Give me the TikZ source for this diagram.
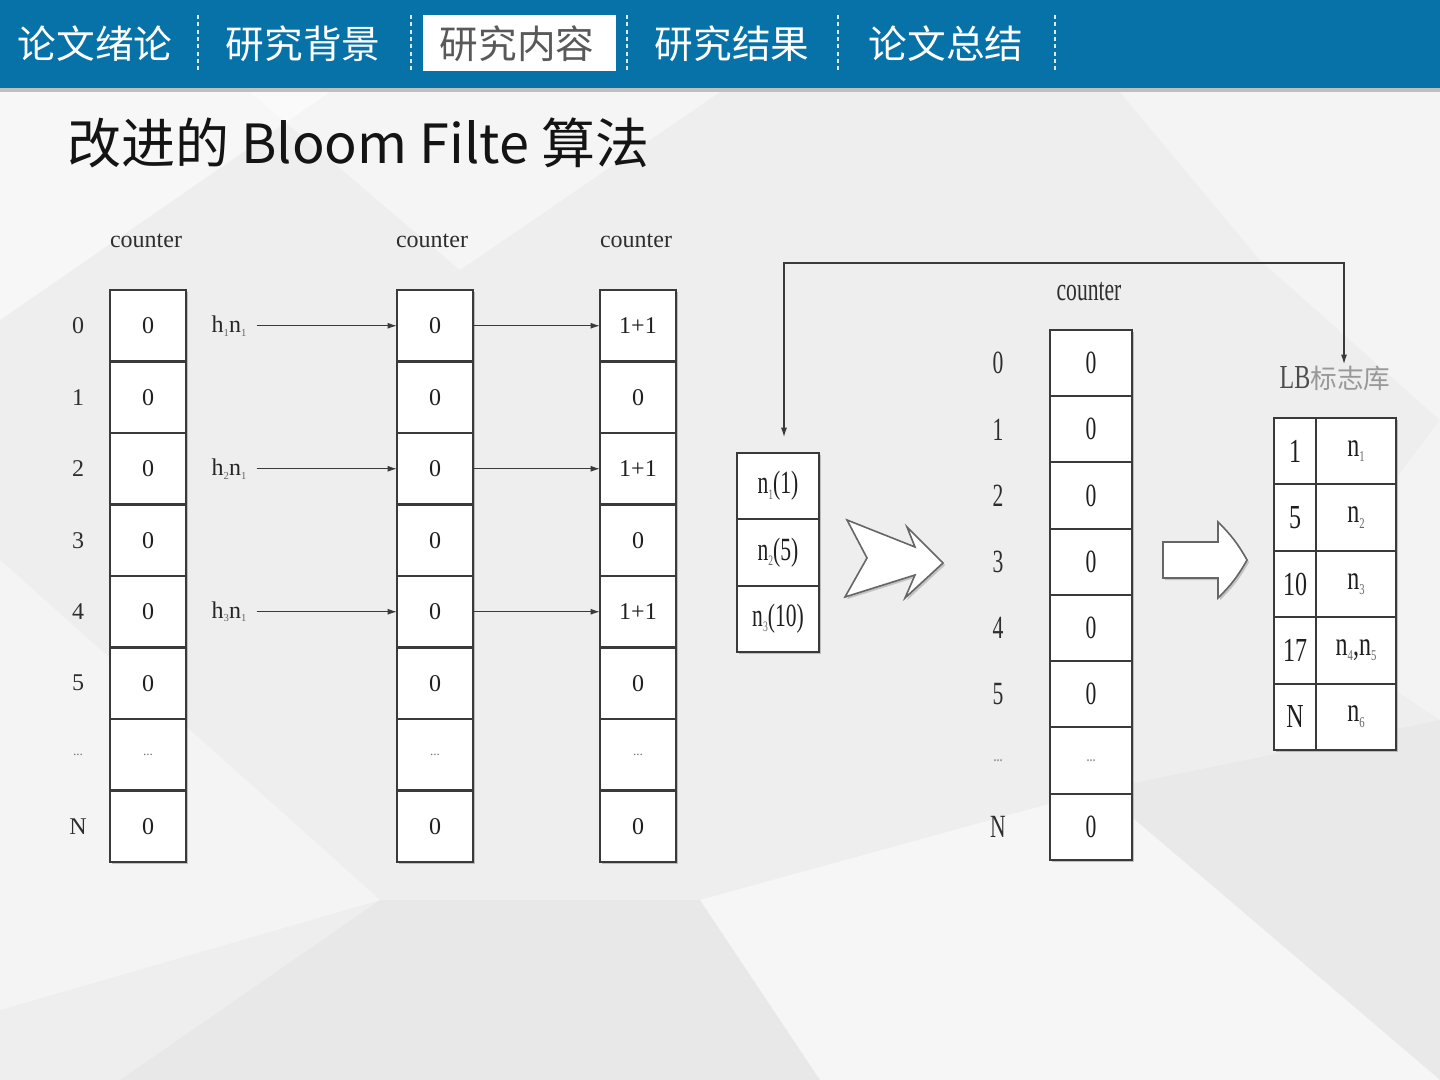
\documentclass[tikz,border=0pt]{standalone}
\usepackage{fontspec}
\usepackage{graphicx}
\setmainfont{Liberation Serif}
\newfontfamily\cjk{Noto Sans CJK SC}
\usetikzlibrary{arrows.meta,shadows}
\definecolor{hdrblue}{RGB}{6,114,168}
\definecolor{bgc}{RGB}{238,238,238}
\definecolor{ln}{RGB}{58,58,58}
\newcommand\sbs[1]{\raisebox{-0.35ex}{\fontsize{8}{8}\selectfont\color{black!60}#1}}
\newcommand\dts{{\color{black!55}\fontsize{10}{10}\selectfont ...}}
\newcommand\stt[1]{\scalebox{0.9}[1.35]{#1}}
\newcommand\slb[1]{\scalebox{1}[1.4]{#1}}
\tikzset{
  cellbase/.style={draw=ln, line width=1.5pt, fill=white, inner sep=0pt, outer sep=0pt,
    text=black!88, font=\fontsize{18}{20}\selectfont,
    drop shadow={shadow xshift=1.6pt, shadow yshift=-1.6pt, fill=black!45}},
  cellA/.style={cellbase, minimum width=57pt, minimum height=53.6pt},
  cellD/.style={cellbase, minimum width=61.5pt, minimum height=49.7pt},
  cellL/.style={cellbase, minimum width=31.5pt, minimum height=49.8pt},
  cellR/.style={cellbase, minimum width=60pt, minimum height=49.8pt},
  lbl/.style={inner sep=1pt, text=black!82, font=\fontsize{18}{20}\selectfont},
  hl/.style={inner sep=0pt, text=black!85, font=\fontsize{18}{20}\selectfont},
  arr/.style={draw=ln, line width=0.9pt, -{Latex[length=7pt,width=4.5pt]}},
  dbl/.style={draw=ln, line width=0.9pt, {Latex[length=7pt,width=4.5pt]}-{Latex[length=7pt,width=4.5pt]}},
  tab/.style={inner sep=0pt, text=white, font=\cjk\fontsize{29}{30}\selectfont},
  sep/.style={draw=white!85!hdrblue, line width=0.8pt, dash pattern=on 3pt off 2.5pt},
  blockarrow/.style={draw=black!60, line width=1.2pt, fill=white,
    drop shadow={shadow xshift=1.6pt, shadow yshift=-1.6pt, fill=black!40}}
}
\begin{document}
\begin{tikzpicture}[x=0.75pt,y=-0.75pt]
\useasboundingbox (0,0) rectangle (1440,1080);
% background
\fill[bgc] (0,0) rectangle (1440,1080);
\fill[white, opacity=0.55] (0,92) -- (330,92) -- (0,320) -- cycle;
\fill[white, opacity=0.45] (250,92) -- (720,92) -- (460,270) -- cycle;
\fill[white, opacity=0.4] (1120,92) -- (1440,92) -- (1440,420) -- (1260,260) -- cycle;
\fill[white, opacity=0.4] (0,560) -- (380,900) -- (0,1010) -- cycle;
\fill[white, opacity=0.5] (700,900) -- (1100,790) -- (1440,1080) -- (820,1080) -- cycle;
\fill[white, opacity=0.35] (1440,420) -- (1440,720) -- (1290,620) -- cycle;
\fill[black, opacity=0.025] (380,900) -- (700,900) -- (820,1080) -- (120,1080) -- cycle;
\fill[black, opacity=0.02] (1100,790) -- (1440,720) -- (1440,1080) -- cycle;
% header
\fill[hdrblue] (0,0) rectangle (1440,88);
\fill[black!25] (0,88) rectangle (1440,92);
\fill[white] (423,15) rectangle (616,71);
\node[tab] (t1) at (95,44) {论文绪论};
\node[tab] (t2) at (303,44) {研究背景};
\node[tab, text=black!65] (t3) at (517,44) {研究内容};
\node[tab] (t4) at (732,44) {研究结果};
\node[tab] (t5) at (946,44) {论文总结};
\foreach \x in {198,411,627,838,1055} \draw[sep] (\x,15) -- (\x,72);
% title
\node[anchor=base west, inner sep=0pt, font=\cjk\fontsize{40.5}{46}\selectfont, text=black!92] (title) at (67,164) {改进的 Bloom Filte 算法};
% counters labels
\node[lbl] (ca) at (146,241) {counter};
\node[lbl] (cb) at (432,241) {counter};
\node[lbl] (cc) at (636,241) {counter};
% array A
\foreach \v [count=\i from 0] in {0,0,0,0,0,0,\dts,0}
  \node[cellA] (a\i) at (148,{325.75+71.5*\i}) {\v};
\foreach \l [count=\i from 0] in {0,1,2,3,4,5,\dts,N}
  \node[lbl] (ra\i) at (78,{325.75+71.5*\i}) {\l};
% array B
\foreach \v [count=\i from 0] in {0,0,0,0,0,0,\dts,0}
  \node[cellA] (b\i) at (435,{325.75+71.5*\i}) {\v};
% array C
\foreach \v [count=\i from 0] in {1+1,0,1+1,0,1+1,0,\dts,0}
  \node[cellA] (c\i) at (638,{325.75+71.5*\i}) {\v};
% hash labels and arrows
\node[hl] (h1) at (229,325.75) {h\sbs{1}n\sbs{1}};
\node[hl] (h2) at (229,468.75) {h\sbs{2}n\sbs{1}};
\node[hl] (h3) at (229,611.75) {h\sbs{3}n\sbs{1}};
\draw[arr] ([xshift=7.5pt]h1.east) -- (b0.west);
\draw[arr] ([xshift=7.5pt]h2.east) -- (b2.west);
\draw[arr] ([xshift=7.5pt]h3.east) -- (b4.west);
\draw[arr] (b0.east) -- (c0.west);
\draw[arr] (b2.east) -- (c2.west);
\draw[arr] (b4.east) -- (c4.west);
% n box
\node[cellD] (n0) at (778,486.2) {\stt{n\sbs{1}(1)}};
\node[cellD] (n1) at (778,552.5) {\stt{n\sbs{2}(5)}};
\node[cellD] (n2) at (778,618.8) {\stt{n\sbs{3}(10)}};
% chevron arrow
\draw[blockarrow, line join=miter] (847,520) -- (915,547) -- (907,527) -- (943,563) -- (905,598) -- (915,575) -- (845,597) -- (867,558) -- cycle;
% array D
\node[lbl] (cd) at (1089,292) {\stt{counter}};
\foreach \v [count=\i from 0] in {0,0,0,0,0,0,\dts,0}
  \node[cellD] (d\i) at (1091,{363.1+66.25*\i}) {\stt{\v}};
\foreach \l [count=\i from 0] in {0,1,2,3,4,5,\dts,N}
  \node[lbl] (rd\i) at (998,{363.1+66.25*\i}) {\stt{\l}};
% block arrow
\draw[blockarrow] (1163,542) -- (1218,542) -- (1218,522) to[bend left=8] (1247,560) to[bend left=8] (1218,598) -- (1218,578) -- (1163,578) -- cycle;
% LB table
\node[inner sep=1pt, font=\fontsize{18}{20}\selectfont, text=black!70] (lb) at (1335,378) {\slb{LB}{\cjk\fontsize{20}{20}\selectfont\color{black!40}标志库}};
\foreach \v [count=\i from 0] in {1,5,10,17,N}
  \node[cellL] (l\i) at (1295,{451.2+66.4*\i}) {\slb{\v}};
\node[cellR] (r0) at (1356,451.2) {\slb{n\sbs{1}}};
\node[cellR] (r1) at (1356,517.6) {\slb{n\sbs{2}}};
\node[cellR] (r2) at (1356,584.0) {\slb{n\sbs{3}}};
\node[cellR] (r3) at (1356,650.4) {\slb{n\sbs{4},n\sbs{5}}};
\node[cellR] (r4) at (1356,716.8) {\slb{n\sbs{6}}};
% feedback connector
\coordinate (fbtop) at (1000,263);
\draw[dbl, shorten <=12pt] ([xshift=4.5pt]n0.north) -- ([xshift=4.5pt]n0.north |- fbtop) -| ([xshift=6.75pt]lb.north);
\end{tikzpicture}
\end{document}
